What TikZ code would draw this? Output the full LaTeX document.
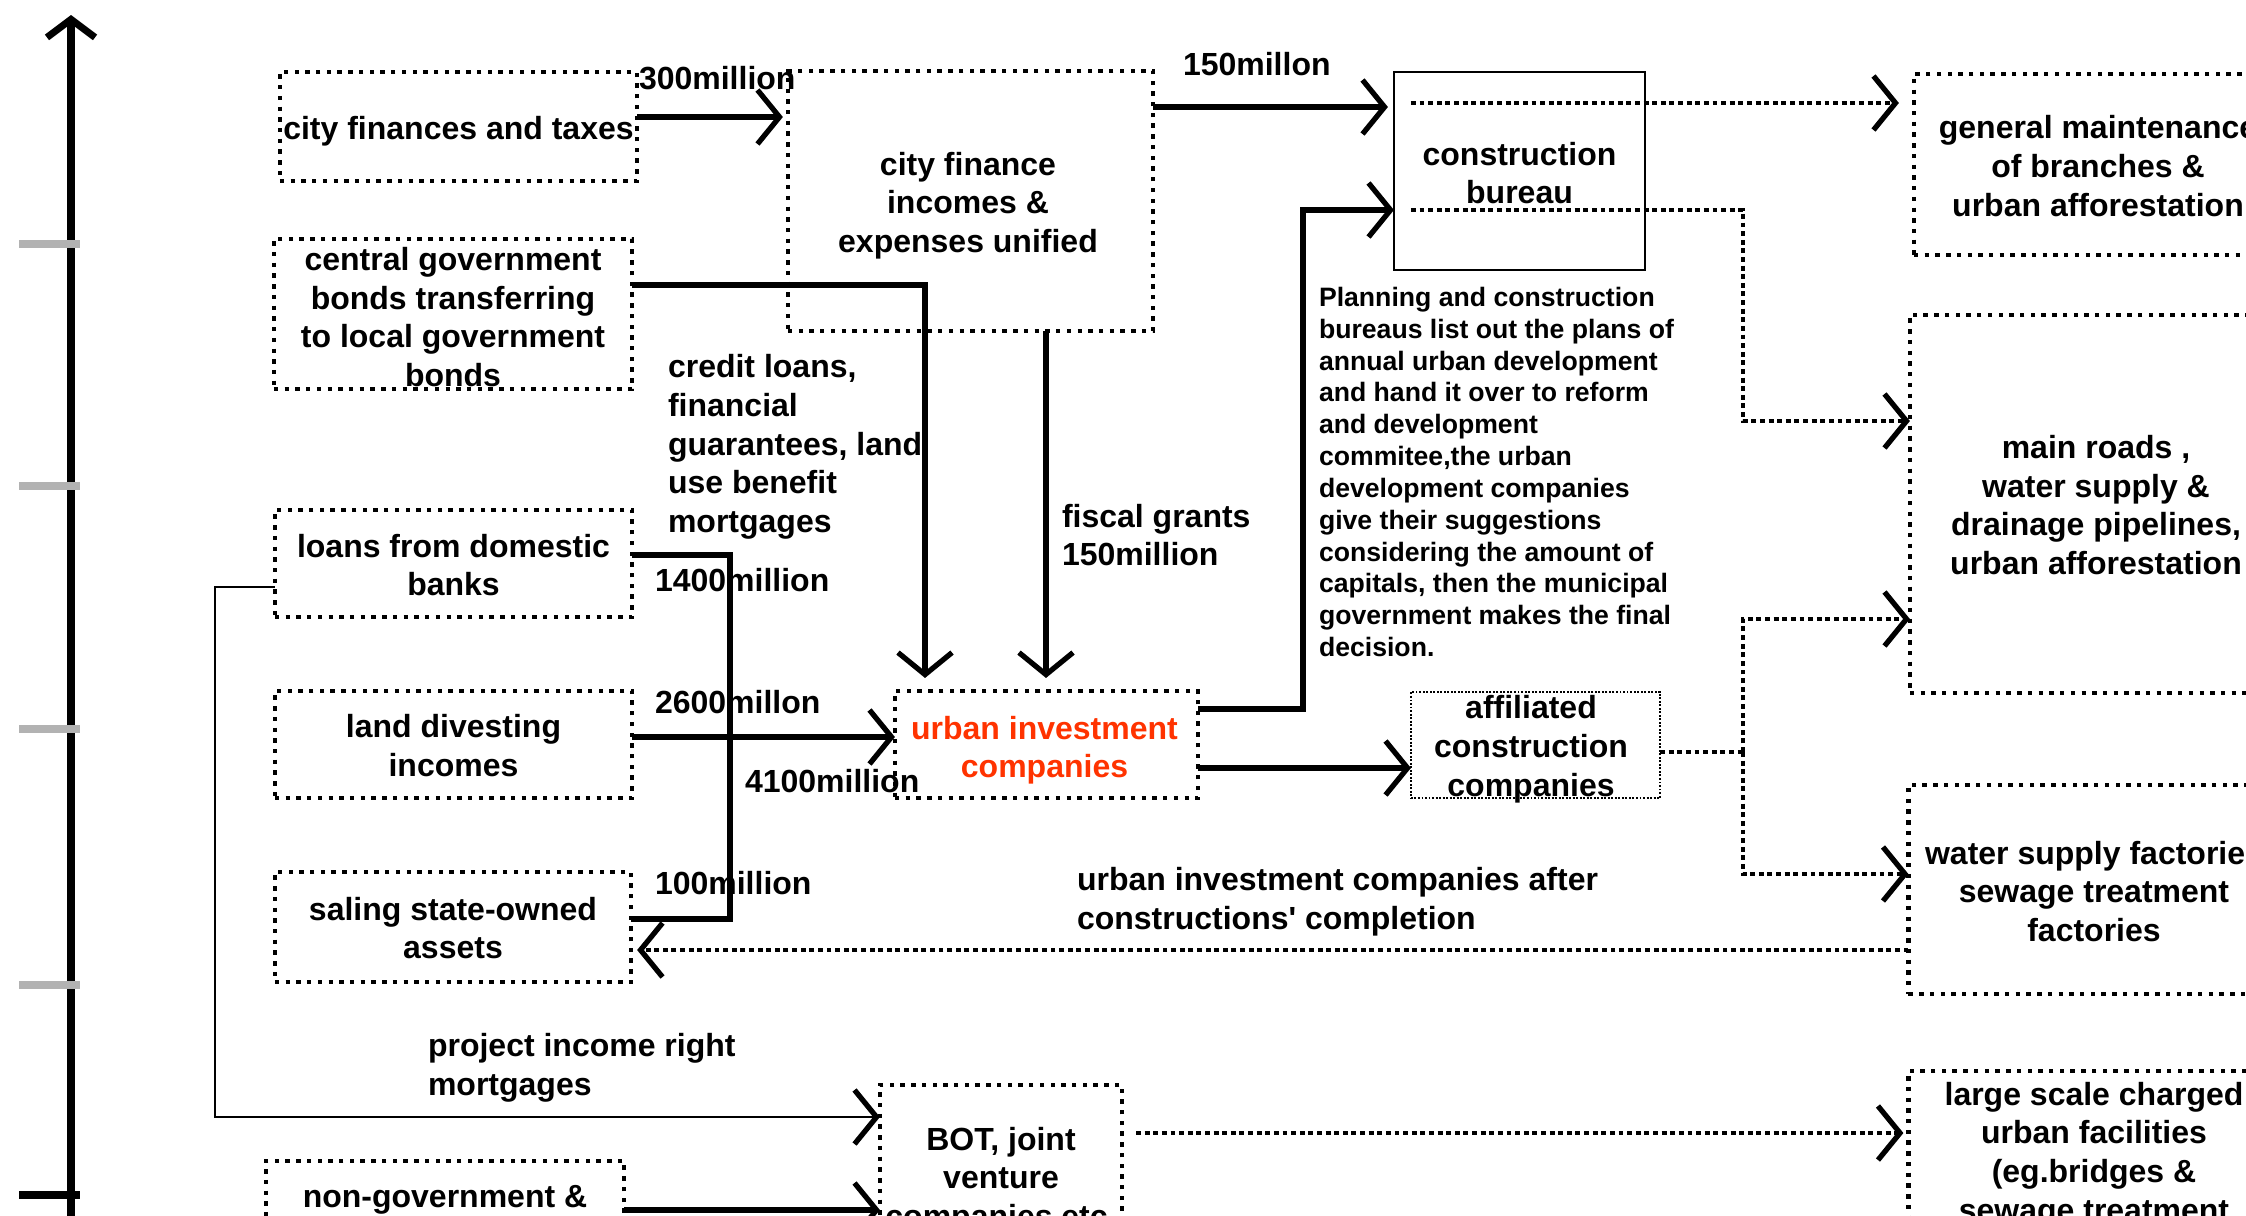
\documentclass[tikz,border=0pt]{standalone}
\usepackage{fontspec}
\setmainfont{Liberation Sans}
\usetikzlibrary{arrows.meta,calc}
\definecolor{uired}{RGB}{255,51,0}
\definecolor{tickgray}{RGB}{178,178,178}
\begin{document}
\begin{tikzpicture}[x=0.01cm,y=-0.01cm,
  every node/.style={font=\fontsize{9.1}{11}\selectfont\bfseries, inner sep=0pt, outer sep=0pt},
  dotbox/.style={draw, line width=1.25pt, dash pattern=on 1.25pt off 1.8pt},
  solidbox/.style={draw, line width=0.75pt},
  finebox/.style={draw, line width=0.55pt, dash pattern=on 0.55pt off 0.45pt},
  txt/.style={align=center},
  barb/.style={-{Straight Barb[length=0.22cm,width=0.54cm,line width=1.5pt]}},
  thk/.style={line width=1.5pt},
  dotln/.style={line width=1.15pt, dash pattern=on 1.4pt off 1.05pt},
  thinline/.style={line width=0.5pt},
  lbl/.style={anchor=west, align=left},
  tickmark/.style={line width=2.3pt, draw=tickgray}
]
\useasboundingbox (0,0) rectangle (2246,1215);
\clip (0,0) rectangle (2246,1215);

% axis
\coordinate (axbot) at (71,1240);
\coordinate (axtop) at (71,15);
\draw[line width=2pt, -{Straight Barb[length=0.18cm,width=0.48cm,line width=2pt]}] (axbot) -- (axtop);
\draw[tickmark] (19,244) -- (80,244);
\draw[tickmark] (19,486) -- (80,486);
\draw[tickmark] (19,729) -- (80,729);
\draw[tickmark] (19,985) -- (80,985);
\draw[line width=2.3pt] (19,1195) -- (80,1195);

% boxes
\node[dotbox, minimum width=3.57cm, minimum height=1.09cm] (cityfin) at (458.5,126.5) {};
\node[txt] (cityfin-t) at (458.5,130.8) {city finances and taxes};
\node[dotbox, minimum width=3.58cm, minimum height=1.50cm] (central) at (453,314) {};
\node[txt] (central-t) at (453,317) {central government\\bonds transferring\\to local government\\bonds};
\node[dotbox, minimum width=3.57cm, minimum height=1.07cm] (loans) at (453.5,563.5) {};
\node[txt] (loans-t) at (453.5,565) {loans from domestic\\banks};
\node[dotbox, minimum width=3.57cm, minimum height=1.07cm] (land) at (453.5,744.5) {};
\node[txt] (land-t) at (453.5,745.5) {land divesting\\incomes};
\node[dotbox, minimum width=3.56cm, minimum height=1.10cm] (saling) at (453,927) {};
\node[txt] (saling-t) at (453,928) {saling state-owned\\assets};
\node[dotbox, minimum width=3.58cm, minimum height=1.44cm] (nongov) at (445,1233) {};
\node[txt] (nongov-t) at (445,1200) {non-government \&};
\node[dotbox, minimum width=3.65cm, minimum height=2.60cm] (cfi) at (970.5,201) {};
\node[txt] (cfi-t) at (968,205.7) {city finance\\incomes \&\\expenses unified};
\node[solidbox, minimum width=2.51cm, minimum height=1.98cm] (cb) at (1519.5,171) {};
\node[txt] (cb-t) at (1519.5,173) {construction\\bureau};
\node[dotbox, minimum width=3.68cm, minimum height=1.81cm] (gm) at (2098,164.5) {};
\node[txt] (gm-t) at (2098,166) {general maintenance\\of branches \&\\urban afforestation};
\node[dotbox, minimum width=3.72cm, minimum height=3.78cm] (mr) at (2096,504) {};
\node[txt] (mr-t) at (2096,505) {main roads ,\\water supply \&\\drainage pipelines,\\urban afforestation};
\node[dotbox, minimum width=3.71cm, minimum height=2.09cm] (ws) at (2094,889.5) {};
\node[txt] (ws-t) at (2094,891.4) {water supply factories\\sewage treatment\\factories};
\node[dotbox, minimum width=3.71cm, minimum height=1.64cm] (ls) at (2094,1153) {};
\node[txt] (ls-t) at (2094,1155) {large scale charged\\urban facilities\\(eg.bridges \&\\sewage treatment};
\node[dotbox, minimum width=3.03cm, minimum height=1.07cm] (ui) at (1046.5,744.5) {};
\node[txt, text=uired] (ui-t) at (1044.5,750.2) {urban investment\\companies};
\node[finebox, minimum width=2.49cm, minimum height=1.06cm] (ac) at (1535.5,745) {};
\node[txt] (ac-t) at (1531,749.3) {affiliated\\construction\\companies};
\node[dotbox, minimum width=2.42cm, minimum height=1.84cm] (bot) at (1001,1177) {};
\node[txt] (bot-t) at (1001,1180.6) {BOT, joint\\venture\\companies etc.};

% labels
\node[lbl] (l300) at (639,78.5) {300million};
\node[lbl] (l150) at (1183,64) {150millon};
\node[lbl] (lcredit) at (668,447) {credit loans,\\financial\\guarantees, land\\use benefit\\mortgages};
\node[lbl] (lfiscal) at (1062,535) {fiscal grants\\150million};
\node[lbl] (l1400) at (655,580) {1400million};
\node[lbl] (l2600) at (655,702) {2600millon};
\node[lbl] (l4100) at (745,781) {4100million};
\node[lbl] (l100) at (655,883.5) {100million};
\node[lbl] (lafter) at (1077,902) {urban investment companies after\\constructions\textquotesingle{} completion};
\node[lbl] (lproj) at (428,1068) {project income right\\mortgages};
\node[lbl, font=\fontsize{7.57}{9.05}\selectfont\bfseries] (lplan) at (1319,472) {Planning and construction\\bureaus list out the plans of\\annual urban development\\and hand it over to reform\\and development\\commitee,the urban\\development companies\\give their suggestions\\considering the amount of\\capitals, then the municipal\\government makes the final\\decision.};

% coordinates
\coordinate (jn) at (730,919);
\coordinate (colb) at (1743,421);
\coordinate (aj) at (1743,752);
\coordinate (pl) at (1303,210);
\coordinate (pj) at (215,1117);

% connectors
\draw[thk, barb, shorten >=0.05cm] (cityfin.east |- 0,117) -- (cfi.west |- 0,117);
\draw[thk, barb, shorten >=0.06cm] (cfi.east |- 0,107) -- (cb.west |- 0,107);
\draw[dotln, barb, shorten >=0.15cm] ($(cb.west |- 0,103)+(17,0)$) -- (gm.west |- 0,103);
\draw[dotln, barb] ($(cb.west |- 0,210)+(17,0)$) -| (colb) -- (mr.west |- colb);
\draw[thk, barb, shorten >=0.13cm] (central.east |- 0,285) -| (ui.north -| 925,0);
\draw[thk, barb, shorten >=0.13cm] (cfi.south -| 1046,0) -- (ui.north -| 1046,0);
\draw[thk] (loans.east |- 0,555) -| (jn) -- (saling.east |- jn);
\draw[thk, barb] (land.east |- 0,737) -- (ui.west |- 0,737);
\draw[thk, barb] (ui.east |- 0,709) -| (pl) -- (cb.west |- pl);
\draw[thk, barb] (ui.east |- 0,768) -- (ac.west |- 0,768);
\draw[dotln] (ac.east |- aj) -- (aj);
\draw[dotln, barb] (aj) |- (mr.west |- 0,619);
\draw[dotln, barb] (aj) |- (ws.west |- 0,874);
\draw[dotln, barb, shorten >=0.06cm] (ws.west |- 0,950) -- (saling.east |- 0,950);
\draw[thinline, barb] (loans.west |- 0,587) -| (pj) -- (bot.west |- pj);
\draw[thk, barb] (nongov.east |- 0,1210) -- (bot.west |- 0,1210);
\draw[dotln, barb, shorten >=0.05cm] ($(bot.east |- 0,1133)+(14,0)$) -- (ls.west |- 0,1133);
\end{tikzpicture}
\end{document}
